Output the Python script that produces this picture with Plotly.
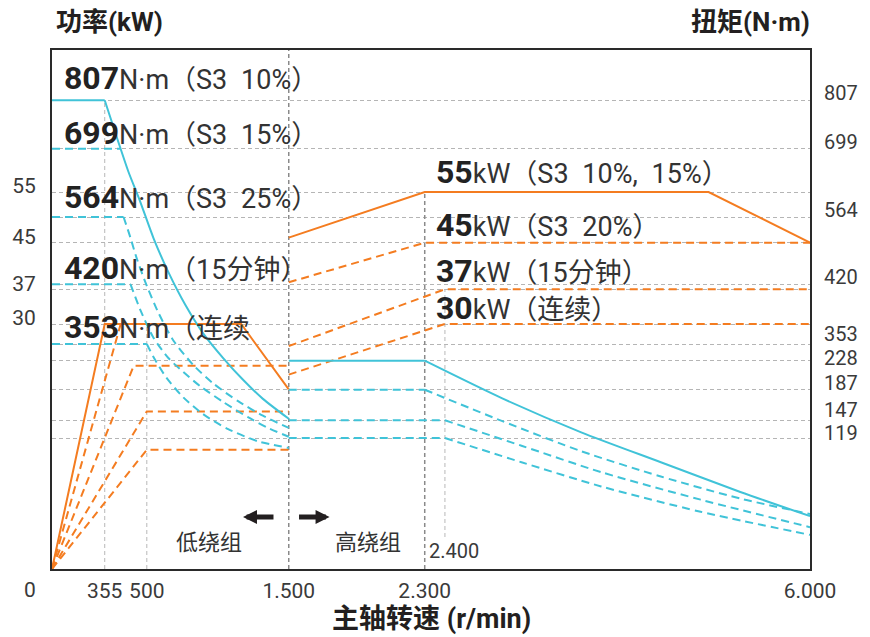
import numpy as np
import plotly.graph_objects as go

# ---------------- schematic (non-linear) scales: tick values and their positions ----------------
X_TICK_RPM = [0, 355, 500, 1500, 2300, 2400, 6000]
X_TICK_POS = [0, 53, 95.3, 238, 374.7, 395, 762]
POWER_TICKS = [0, 30, 37, 45, 55]
POWER_POS = [0, 245, 279.7, 326.3, 377]
TORQUE_TICKS = [0, 119, 147, 187, 228, 353, 420, 564, 699, 807]
TORQUE_POS = [0, 131, 148.7, 179.3, 208.3, 225, 284.7, 352, 420.3, 468.7]

X_LABEL_RPM = [355, 500, 1500, 2300, 6000]
X_LABELS = ["355", "500", "1.500", "2.300", "6.000"]
POWER_LABEL_KW = [30, 37, 45, 55]
TORQUE_LABEL_NM = [119, 147, 187, 228, 353, 420, 564, 699, 807]

# ---------------- data: torque (N·m) vs spindle speed (r/min) ----------------
# low winding
t807_rpm = [0, 355, 400, 437, 475, 547, 652, 771, 897, 1038, 1178, 1318, 1500]
t807_nm = [807, 807, 718, 653, 598, 519, 446, 397, 365, 248, 201, 175, 149]
t699_rpm = [0, 410]
t699_nm = [699, 699]
t564_rpm = [0, 420, 444, 465, 496, 582, 687, 827, 967, 1143, 1318, 1500]
t564_nm = [564, 564, 519, 476, 423, 388, 357, 222, 196, 172, 153, 135]
t420_rpm = [0, 444, 478, 547, 652, 757, 876, 1038, 1213, 1353, 1500]
t420_nm = [420, 420, 391, 360, 248, 212, 192, 171, 151, 135, 121]
t353_rpm = [0, 500, 547, 638, 757, 897, 1073, 1283, 1500]
t353_nm = [353, 353, 256, 204, 177, 155, 133, 116, 110]
# high winding
h228_rpm = [1500, 2300, 2960, 3744, 4529, 5313, 6000]
h228_nm = [228, 228, 176, 128, 97, 70, 48]
h187_rpm = [1500, 2300, 2960, 3744, 4529, 5313, 6000]
h187_nm = [187, 187, 146, 107, 84, 64, 50]
h147_rpm = [1500, 2400, 3155, 3940, 4921, 6000]
h147_nm = [147, 147, 112, 88, 63, 38]
h119_rpm = [1500, 2400, 3155, 3940, 4921, 6000]
h119_nm = [119, 119, 97, 75, 52, 31]

# ---------------- data: power (kW) vs spindle speed (r/min) ----------------
p807_rpm = [0, 355, 1165, 1500]
p807_kw = [0, 30, 30, 22]
p699_rpm = [0, 410]
p699_kw = [0, 30]
p564_rpm = [0, 455, 1500]
p564_kw = [0, 24.9, 24.9]
p420_rpm = [0, 500, 1500]
p420_kw = [0, 19.3, 19.3]
p353_rpm = [0, 500, 1500]
p353_kw = [0, 14.6, 14.6]
p55_rpm = [1500, 2300, 5000, 6000]
p55_kw = [46, 55, 55, 45]
p45_rpm = [1500, 2300, 6000]
p45_kw = [38.2, 45, 45]
p37_rpm = [1500, 2400, 6000]
p37_kw = [27.3, 37, 37]
p30_rpm = [1500, 2400, 6000]
p30_kw = [23.8, 30, 30]


def sx(v):
    return np.interp(v, X_TICK_RPM, X_TICK_POS)


def sp(v):
    return np.interp(v, POWER_TICKS, POWER_POS)


def st(v):
    return np.interp(v, TORQUE_TICKS, TORQUE_POS)


ORANGE = "#F47C20"
CYAN = "#40C3D8"
DASH = "8px,5px"
TXT = "#2b2b2b"
W, H = 870, 637
L, R, T, B = 48, 60, 50, 68
PW, PH = W - L - R, H - T - B

fig = go.Figure()


def add(xs, ys, color, dash=None, shape="linear"):
    fig.add_trace(go.Scatter(
        x=sx(xs), y=ys, mode="lines", hoverinfo="skip", showlegend=False,
        line=dict(color=color, width=2, dash=dash or "solid", shape=shape, smoothing=0.7)))


def add_curve(rpm, vals, scale, color, dash, corner):
    """flat part straight, decaying part smoothed"""
    ys = scale(vals)
    add(rpm[:corner + 1], ys[:corner + 1], color, dash)
    add(rpm[corner:], ys[corner:], color, dash, shape="spline")


# power curves (orange)
add(p807_rpm, sp(p807_kw), ORANGE)
add(p699_rpm, sp(p699_kw), ORANGE, DASH)
add(p564_rpm, sp(p564_kw), ORANGE, DASH)
add(p420_rpm, sp(p420_kw), ORANGE, DASH)
add(p353_rpm, sp(p353_kw), ORANGE, DASH)
add(p55_rpm, sp(p55_kw), ORANGE)
add(p45_rpm, sp(p45_kw), ORANGE, DASH)
add(p37_rpm, sp(p37_kw), ORANGE, DASH)
add(p30_rpm, sp(p30_kw), ORANGE, DASH)

# torque curves (cyan)
add_curve(t807_rpm, t807_nm, st, CYAN, None, 1)
add(t699_rpm, st(t699_nm), CYAN, DASH)
add_curve(t564_rpm, t564_nm, st, CYAN, DASH, 1)
add_curve(t420_rpm, t420_nm, st, CYAN, DASH, 1)
add_curve(t353_rpm, t353_nm, st, CYAN, DASH, 1)
add_curve(h228_rpm, h228_nm, st, CYAN, None, 1)
add_curve(h187_rpm, h187_nm, st, CYAN, DASH, 1)
add_curve(h147_rpm, h147_nm, st, CYAN, DASH, 1)
add_curve(h119_rpm, h119_nm, st, CYAN, DASH, 1)

# dummy trace to activate right axis
fig.add_trace(go.Scatter(x=[None], y=[None], yaxis="y2", showlegend=False, hoverinfo="skip"))

# vertical reference lines
vlines = [
    (355, 0, st(807), "#b8b8b8", 1),
    (500, 0, sp(30), "#b8b8b8", 1),
    (1500, 0, PH, "#8a8a8a", 1.5),
    (2300, 0, sp(55), "#8a8a8a", 1.5),
    (2400, 32, sp(37), "#b8b8b8", 1),
]
for rpm, y0, y1, col, w in vlines:
    fig.add_shape(type="line", x0=sx(rpm), x1=sx(rpm), y0=y0, y1=y1, xref="x", yref="y",
                  line=dict(color=col, width=w, dash="4px,3px"), layer="between")

LAT = "Roboto, Noto Sans CJK SC, sans-serif"
CJK = "Noto Sans CJK SC, sans-serif"
tickfont = dict(family=LAT, size=21, color="#3a3a3a")
axis_line = dict(showline=True, linecolor="#2a2a2a", linewidth=2, mirror=True, zeroline=False)

fig.update_layout(
    width=W, height=H, margin=dict(l=L, r=R, t=T, b=B),
    plot_bgcolor="white", paper_bgcolor="white", showlegend=False,
    xaxis=dict(range=[0, PW], tickmode="array", tickvals=sx(X_LABEL_RPM), ticktext=X_LABELS,
               showgrid=False, ticks="", tickfont=tickfont, ticklabelstandoff=2, **axis_line),
    yaxis=dict(range=[0, PH], tickmode="array", tickvals=sp(POWER_LABEL_KW),
               ticktext=[str(v) for v in POWER_LABEL_KW], showgrid=True, gridcolor="#b5b5b5",
               griddash="4px,3px", gridwidth=1, ticks="", tickfont=tickfont,
               ticklabelstandoff=10, ticklabelshift=-6, **axis_line),
    yaxis2=dict(range=[0, PH], overlaying="y", side="right", tickmode="array",
                tickvals=st(TORQUE_LABEL_NM), ticktext=[""] * len(TORQUE_LABEL_NM),
                showticklabels=False,
                showgrid=True, gridcolor="#b5b5b5", griddash="4px,3px", gridwidth=1,
                ticks="", showline=False, zeroline=False),
)


def ann(x, y, text, size=22, xanchor="left", family=LAT, color=TXT):
    fig.add_annotation(x=(x - L) / PW, y=(T + PH - y) / PH, xref="paper", yref="paper",
                       text=text, showarrow=False, xanchor=xanchor, yanchor="middle",
                       font=dict(family=family, size=size, color=color))


# right-hand torque scale labels (nudged apart where the ticks are crowded)
torque_label_nudge = {353: -10, 228: -3, 147: -10, 119: -5}
for nm in TORQUE_LABEL_NM:
    ypix = T + PH - float(st(nm)) + (-7 if nm not in torque_label_nudge else torque_label_nudge[nm])
    ann(822, ypix, str(nm), size=20, color="#3a3a3a")


def big(num, rest):
    return "<span style='font-size:32px;color:#222'><b>%s</b></span>%s" % (num, rest)


SP = "\u2002"
left_labels = [("807", "N·m（S3" + SP + "10%）", 78), ("699", "N·m（S3" + SP + "15%）", 133),
               ("564", "N·m（S3" + SP + "25%）", 197), ("420", "N·m（15分钟）", 268),
               ("353", "N·m（连续", 327)]
for num, rest, y in left_labels:
    ann(58, y, big(num, rest), size=27, color="#333")

right_labels = [("55", "kW（S3" + SP + "10%," + SP + "15%）", 172), ("45", "kW（S3" + SP + "20%）", 225),
                ("37", "kW（15分钟）", 271), ("30", "kW（连续）", 308)]
for num, rest, y in right_labels:
    ann(432, y, big(num, rest), size=27, color="#333")

# axis titles
ann(50, 22, "<b>功率(kW)</b>", size=26, family=LAT, color="#231f20")
ann(812, 22, "<b>扭矩(N·m)</b>", size=26, xanchor="right", family=LAT, color="#231f20")
ann(430, 619, "<b>主轴转速 (r/min)</b>", size=27, xanchor="center", family=LAT, color="#231f20")

# other texts
ann(206, 540, "低绕组", size=22, xanchor="center", family=CJK, color="#333")
ann(366, 540, "高绕组", size=22, xanchor="center", family=CJK, color="#333")
ann(452, 551, "2.400", size=20, xanchor="center", color="#3a3a3a")
ann(26, 590, "0", size=21, xanchor="center", color="#3a3a3a")

# winding arrows
for head, tail in [(240, 272), (327, 295)]:
    fig.add_annotation(x=(head - L) / PW, y=(T + PH - 517) / PH, xref="paper", yref="paper",
                       ax=tail - head, ay=0, text="", showarrow=True, arrowhead=2,
                       arrowwidth=5, arrowsize=0.56, arrowcolor="#231f20")

fig.write_html("out.html")
